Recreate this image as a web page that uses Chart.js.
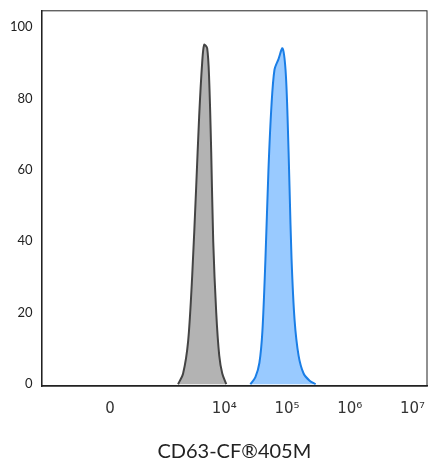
<!DOCTYPE html>
<html><head>
<script src="https://cdn.jsdelivr.net/npm/chart.js@4"></script>
<style>body{margin:0;background:#fff}#c{width:442px;height:476px}</style>
</head><body><div id="c"><canvas id="chart"></canvas></div>
<script>
// x in decades (log10 of the biexponential axis), y in % of max
const isoX = [3.264, 3.344, 3.424, 3.488, 3.552, 3.6, 3.648, 3.68, 3.728, 3.76, 3.792, 3.824, 3.872, 3.92, 3.968, 4.032]
const isoY = [0, 3, 12, 30, 55, 75, 90, 95, 94, 85, 65, 40, 20, 8, 3, 0]
const cd63X = [4.416, 4.496, 4.56, 4.608, 4.656, 4.704, 4.752, 4.8, 4.864, 4.928, 4.976, 5.008, 5.04, 5.072, 5.12, 5.184, 5.264, 5.36, 5.456]
const cd63Y = [0, 2, 6, 15, 35, 60, 78, 88, 91, 94, 88, 75, 55, 35, 18, 8, 3, 1, 0]
const xTickPos = [2.18, 4, 5, 6, 7]
const xTickText = ['0', '10⁴', '10⁵', '10⁶', '10⁷']

const pts = (xs, ys) => xs.map((x, i) => ({x: x, y: ys[i]}))
Chart.defaults.font.family = 'Lato, sans-serif'
Chart.defaults.color = '#222'

new Chart('chart', {
    type: 'line',
    data: {
        datasets: [
            {data: pts(isoX, isoY), borderColor: '#444', backgroundColor: '#b3b3b3', fill: 'origin', borderWidth: 2, pointRadius: 0, tension: 0.3},
            {data: pts(cd63X, cd63Y), borderColor: '#1a7ee6', backgroundColor: '#99caff', fill: 'origin', borderWidth: 2, pointRadius: 0, tension: 0.3}
        ]
    },
    options: {
        responsive: true, maintainAspectRatio: false, animation: false,
        layout: {padding: {top: 10, right: 15, left: 7, bottom: 8}},
        plugins: {legend: {display: false}, tooltip: {enabled: false}},
        scales: {
            x: {
                type: 'linear', min: 1.09, max: 7.23,
                grid: {display: false, drawTicks: true, tickLength: 8, color: '#000'},
                border: {color: '#222', width: 1.5},
                afterBuildTicks: axis => { axis.ticks = xTickPos.map(v => ({value: v})) },
                ticks: {autoSkip: false, maxRotation: 0, padding: 6, font: {size: 15, family: 'DejaVu Sans'}, color: '#333', callback: (v, i) => xTickText[i]},
                title: {display: true, text: 'CD63-CF®405M', font: {size: 20}, padding: {top: 16}}
            },
            y: {
                min: -0.5, max: 104.5,
                grid: {display: false, drawTicks: true, tickLength: 6, color: '#000'},
                border: {color: '#222', width: 1.5},
                afterBuildTicks: axis => { axis.ticks = [0, 5, 10, 15, 20, 25, 30, 35, 40, 45, 50, 55, 60, 65, 70, 75, 80, 85, 90, 95, 100].map(v => ({value: v})) },
                ticks: {autoSkip: false, font: {size: 13}, callback: v => v % 20 === 0 ? v : ''}
            }
        }
    },
    plugins: [{
        id: 'box',
        afterDraw(chart) {
            const a = chart.chartArea, ctx = chart.ctx
            ctx.save(); ctx.strokeStyle = '#222'; ctx.lineWidth = 1
            ctx.strokeRect(a.left, a.top, a.right - a.left, a.bottom - a.top)
            ctx.restore()
        }
    }]
})
</script></body></html>
